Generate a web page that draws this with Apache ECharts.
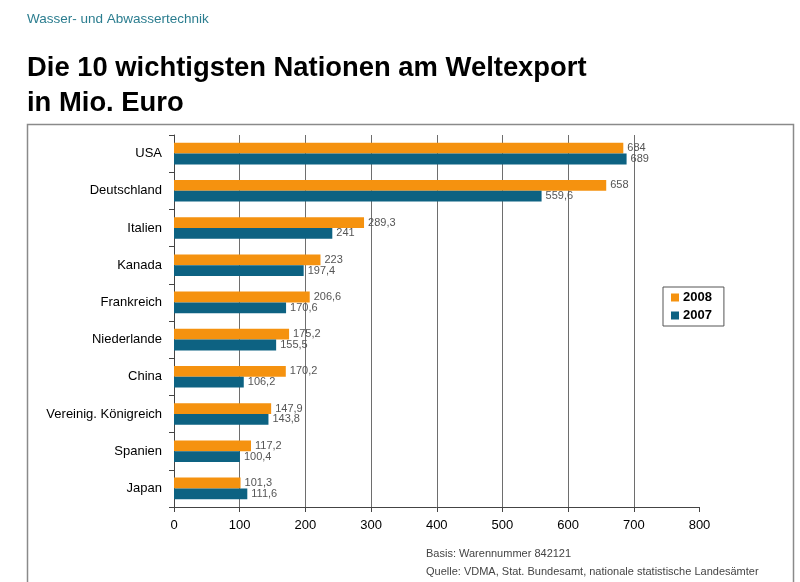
<!DOCTYPE html>
<html>
<head>
<meta charset="utf-8">
<script src="https://cdn.jsdelivr.net/npm/echarts@6/dist/echarts.min.js"></script>
<style>
  html, body {margin: 0; padding: 0; background: #fff;}
  #chart {width: 800px; height: 582px;}
</style>
</head>
<body>
<div id="chart"></div>
<script>
const countries = ['USA', 'Deutschland', 'Italien', 'Kanada', 'Frankreich', 'Niederlande', 'China', 'Vereinig. Königreich', 'Spanien', 'Japan'];
const values2008 = [684, 658, 289.3, 223, 206.6, 175.2, 170.2, 147.9, 117.2, 101.3];
const values2007 = [689, 559.6, 241, 197.4, 170.6, 155.5, 106.2, 143.8, 100.4, 111.6];
const xTicks = [0, 100, 200, 300, 400, 500, 600, 700, 800];

const fmt = p => String(p.value).replace('.', ',');
const font = 'Arial, "Liberation Sans", sans-serif';

const chart = echarts.init(document.getElementById('chart'));
chart.setOption({
  animation: false,
  textStyle: {fontFamily: font},
  title: [{
    text: 'Wasser- und Abwassertechnik',
    left: 22, top: 7,
    textStyle: {fontSize: 13.5, fontWeight: 'normal', color: '#2b7d8f', fontFamily: font}
  }, {
    text: 'Die 10 wichtigsten Nationen am Weltexport\nin Mio. Euro',
    left: 22, top: 46,
    textStyle: {fontSize: 27.4, fontWeight: 'bold', color: '#000', lineHeight: 35, fontFamily: font}
  }],
  graphic: [{
    type: 'rect',
    shape: {x: 27.5, y: 124.5, width: 766, height: 470},
    style: {fill: 'none', stroke: '#8a8a8a', lineWidth: 1.5},
    z: -1
  }, {
    type: 'text', left: 426, top: 548,
    style: {text: 'Basis: Warennummer 842121', fontSize: 11, fill: '#444', fontFamily: font}
  }, {
    type: 'text', left: 426, top: 566,
    style: {text: 'Quelle: VDMA, Stat. Bundesamt, nationale statistische Landesämter', fontSize: 11, fill: '#444', fontFamily: font}
  }],
  legend: {
    orient: 'vertical',
    left: 663, top: 287,
    padding: [4, 12, 4, 8],
    itemGap: 5,
    itemWidth: 8, itemHeight: 8,
    icon: 'rect',
    borderColor: '#555', borderWidth: 1,
    textStyle: {fontSize: 13, fontWeight: 'bold', color: '#000', padding: [0, 0, 0, -1]},
    data: ['2008', '2007']
  },
  grid: {left: 174, right: 100.5, top: 135, bottom: 75},
  xAxis: {
    type: 'value',
    min: xTicks[0], max: xTicks[xTicks.length - 1], interval: 100,
    axisLine: {show: true, lineStyle: {color: '#444'}},
    axisTick: {show: true, length: 5, lineStyle: {color: '#444'}},
    axisLabel: {fontSize: 13, color: '#000', margin: 12},
    splitLine: {show: true, showMaxLine: false, lineStyle: {color: '#6e6e6e', width: 1}}
  },
  yAxis: {
    type: 'category',
    inverse: true,
    data: countries,
    axisLine: {show: true, lineStyle: {color: '#444'}},
    axisTick: {show: true, length: 5, lineStyle: {color: '#444'}},
    axisLabel: {fontSize: 13, color: '#000', margin: 12}
  },
  series: [{
    name: '2008',
    type: 'bar',
    data: values2008,
    itemStyle: {color: '#f5920f'},
    barGap: '0%',
    barCategoryGap: '42%',
    label: {show: true, position: 'right', distance: 4, fontSize: 11, color: '#555', formatter: fmt}
  }, {
    name: '2007',
    type: 'bar',
    data: values2007,
    itemStyle: {color: '#0d6282'},
    label: {show: true, position: 'right', distance: 4, fontSize: 11, color: '#555', formatter: fmt}
  }]
});
</script>
</body>
</html>
